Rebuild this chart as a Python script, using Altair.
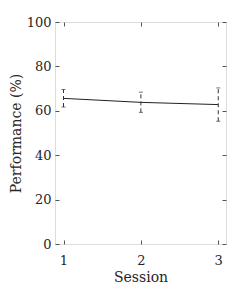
import altair as alt
import pandas as pd

sessions = [1, 2, 3]
means = [65.6, 63.8, 62.8]
lows = [61.7, 59.3, 55.3]
highs = [69.6, 68.4, 70.3]
y_ticks = [0, 20, 40, 60, 80, 100]
x_ticks = [1, 2, 3]

df = pd.DataFrame({"session": sessions, "mean": means, "low": lows, "high": highs})

FONT = "DejaVu Serif"
TXT = "#262626"
FRAME = "#555555"
W, H = 171, 222

xscale = alt.Scale(domain=[0.89, 3.1], nice=False, zero=False)
yscale = alt.Scale(domain=[0, 100], nice=False, zero=False)

base = alt.Chart(df)

def tick_axis(orient, values, offset):
    return alt.Axis(orient=orient, values=values, offset=offset, labels=False, title=None,
                    domain=False, grid=False, ticks=True, tickSize=4, tickColor=FRAME,
                    tickWidth=1)

line = base.mark_line(color="#222222", strokeWidth=1).encode(
    x=alt.X("session:Q", scale=xscale,
            axis=alt.Axis(orient="bottom", values=x_ticks, format="d", title="Session",
                          tickSize=0, labelPadding=10, domain=False, grid=False,
                          labelFont=FONT, labelFontSize=13, labelColor=TXT,
                          titleFont=FONT, titleFontSize=14, titleFontWeight="normal",
                          titleColor=TXT, titlePadding=3)),
    y=alt.Y("mean:Q", scale=yscale,
            axis=alt.Axis(orient="left", values=y_ticks, format="d", title="Performance (%)",
                          tickSize=0, labelPadding=4, domain=False, grid=False,
                          labelFont=FONT, labelFontSize=13, labelColor=TXT,
                          titleFont=FONT, titleFontSize=14, titleFontWeight="normal",
                          titleColor=TXT, titlePadding=3)),
)

bars = base.mark_rule(color="#333333", strokeWidth=1, strokeDash=[4, 3]).encode(
    x=alt.X("session:Q", scale=xscale, axis=tick_axis("top", x_ticks, -H)),
    y=alt.Y("low:Q", scale=yscale, axis=tick_axis("right", y_ticks, -W)),
    y2="high:Q",
)

caps_lo = base.mark_tick(color="#333333", orient="horizontal", size=4, thickness=1).encode(
    x=alt.X("session:Q", scale=xscale, axis=tick_axis("bottom", x_ticks, -H)),
    y=alt.Y("low:Q", scale=yscale, axis=tick_axis("left", y_ticks, -W)),
)

caps_hi = base.mark_tick(color="#333333", orient="horizontal", size=4, thickness=1).encode(
    x=alt.X("session:Q", scale=xscale, axis=None),
    y=alt.Y("high:Q", scale=yscale, axis=None),
)

chart = alt.layer(line, bars, caps_lo, caps_hi).resolve_axis(
    x="independent", y="independent"
).properties(
    width=W, height=H,
    autosize=alt.AutoSizeParams(type="none"),
    padding={"left": 47, "top": 14, "right": 15, "bottom": 39},
).configure_view(stroke=FRAME, strokeWidth=1).configure(background="white")

chart.save("out.html", embed_options={"renderer": "svg", "actions": False})
